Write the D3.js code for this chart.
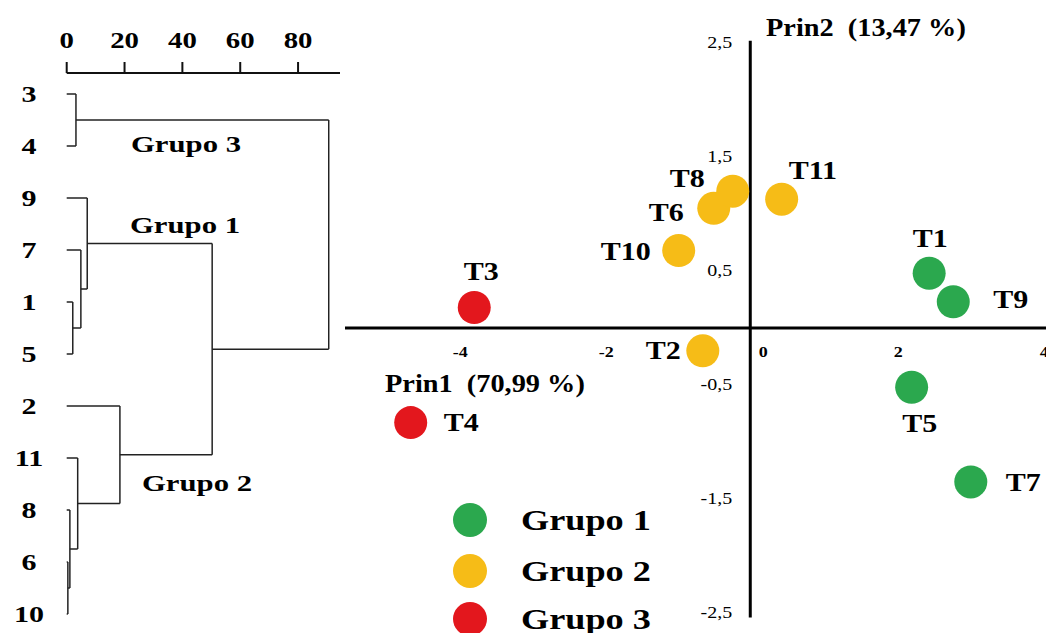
<!DOCTYPE html>
<html>
<head>
<meta charset="utf-8">
<script src="https://cdn.jsdelivr.net/npm/d3@7"></script>
<style>
  body { margin: 0; background: #fff; }
  text { font-family: "Liberation Serif", "Times New Roman", serif; fill: #000; white-space: pre; }
</style>
</head>
<body>
<div id="chart"></div>
<script>
// dendrogram (left) + PCA biplot of treatments (right)

// --- dendrogram data ---
var leafOrder = ["3", "4", "9", "7", "1", "5", "2", "11", "8", "6", "10"];
// merge k joins mergeLeft[k] and mergeRight[k] at mergeHeight[k]; "m" + k names the new cluster
var mergeLeft   = ["3", "1", "7",  "9",  "6",  "8",  "11", "2",  "m3", "m0"];
var mergeRight  = ["4", "5", "m1", "m2", "10", "m4", "m5", "m6", "m7", "m8"];
var mergeHeight = [3.2, 2.1, 4.9,  7.1,  0.4,  1.1,  3.8,  18.4, 50.3, 90.6];
var dendroTicks = [0, 20, 40, 60, 80];
var groupNames = ["Grupo 1", "Grupo 2", "Grupo 3"];

// --- PCA data ---
var treatments = ["T1", "T2", "T3", "T4", "T5", "T6", "T7", "T8", "T9", "T10", "T11"];
var prin1 = [2.45, -0.65, -3.78, -4.65, 2.21, -0.50, 3.02, -0.24, 2.78, -0.98, 0.43];
var prin2 = [0.48, -0.20, 0.18, -0.83, -0.52, 1.05, -1.35, 1.20, 0.23, 0.68, 1.13];
var group = [1, 2, 3, 3, 1, 2, 1, 2, 1, 2, 2];
var xTicks = [-4, -2, 0, 2, 4];
var yTicks = [2.5, 1.5, 0.5, -0.5, -1.5, -2.5];

var groupColors = ["#2ba84e", "#f6bc17", "#e3171d"];

var W = 1046, H = 633;

var svg = d3.select("#chart").append("svg")
    .attr("width", W)
    .attr("height", H);

svg.append("rect").attr("width", W).attr("height", H).attr("fill", "#fff");

// text with a horizontal stretch, the original lettering is wider than Times
function label(parent, txt, x, y, size, sx, anchor, weight) {
    return parent.append("text")
        .attr("transform", "translate(" + x + "," + y + ") scale(" + sx + ",1)")
        .attr("text-anchor", anchor || "middle")
        .attr("dominant-baseline", "central")
        .style("font-size", size + "px")
        .style("font-weight", weight || "bold")
        .text(txt);
}

// ================= dendrogram =================
var dg = svg.append("g");

var xd = d3.scaleLinear()
    .domain([0, 94.5])
    .range([66.7, 340]);

var yd = d3.scalePoint()
    .domain(leafOrder)
    .range([94, 614]);

// axis on top
var dAxisY = 73;
dg.append("line")
    .attr("x1", xd(0)).attr("x2", xd(94.5))
    .attr("y1", dAxisY).attr("y2", dAxisY)
    .attr("stroke", "#111").attr("stroke-width", 2);

dg.selectAll(".dtick")
    .data(dendroTicks)
    .enter()
    .append("line")
    .attr("class", "dtick")
    .attr("x1", function(d) { return xd(d); })
    .attr("x2", function(d) { return xd(d); })
    .attr("y1", dAxisY - 11)
    .attr("y2", dAxisY)
    .attr("stroke", "#111").attr("stroke-width", 2);

dendroTicks.forEach(function(t) {
    label(dg, String(t), xd(t), 40, 24, 1.2);
});

// node positions
var pos = {};
leafOrder.forEach(function(l) {
    pos[l] = {x: xd(0), y: yd(l)};
});

mergeLeft.forEach(function(a, k) {
    var b = mergeRight[k];
    var nx = xd(mergeHeight[k]);
    var pa = pos[a], pb = pos[b];
    // horizontal arms
    [pa, pb].forEach(function(p) {
        dg.append("line")
            .attr("x1", p.x).attr("x2", nx)
            .attr("y1", p.y).attr("y2", p.y)
            .attr("stroke", "#222").attr("stroke-width", 1.5);
    });
    // vertical join
    dg.append("line")
        .attr("x1", nx).attr("x2", nx)
        .attr("y1", pa.y).attr("y2", pb.y)
        .attr("stroke", "#222").attr("stroke-width", 1.5);
    pos["m" + k] = {x: nx, y: (pa.y + pb.y) / 2};
});

leafOrder.forEach(function(l) {
    label(dg, l, 29, yd(l), 24, 1.25);
});

// cluster names
var groupLabelPos = {"Grupo 1": [185, 225], "Grupo 2": [197, 483], "Grupo 3": [186, 144]};
groupNames.forEach(function(g) {
    label(dg, g, groupLabelPos[g][0], groupLabelPos[g][1], 24, 1.28);
});

// ================= PCA =================
var pg = svg.append("g");

var x = d3.scaleLinear()
    .domain([-5.55, 4.05])
    .range([345, 1046]);

var y = d3.scaleLinear()
    .domain([-2.5, 2.5])
    .range([613, 43]);

// axes through the origin
pg.append("line")
    .attr("x1", x(-5.55)).attr("x2", x(4.05))
    .attr("y1", y(0)).attr("y2", y(0))
    .attr("stroke", "#000").attr("stroke-width", 3);

pg.append("line")
    .attr("x1", x(0)).attr("x2", x(0))
    .attr("y1", y(2.52)).attr("y2", y(-2.54))
    .attr("stroke", "#000").attr("stroke-width", 3);

var fmt = function(v) { return String(v).replace(".", ","); };

yTicks.forEach(function(t) {
    label(pg, fmt(t), x(0) - 18, y(t), 16, 1.25, "end", "normal");
});

xTicks.forEach(function(t) {
    var dx = t === 0 ? 13 : 2;
    label(pg, String(t), x(t) + dx, y(0) + 24, 15, 1.2);
});

label(pg, "Prin2  (13,47 %)", 766, 27, 26, 1.09, "start");
label(pg, "Prin1  (70,99 %)", 385, 383, 26, 1.09, "start");

var pts = treatments.map(function(t, i) {
    return {name: t, px: prin1[i], py: prin2[i], g: group[i]};
});

pg.selectAll("circle.pt")
    .data(pts)
    .enter()
    .append("circle")
    .attr("class", "pt")
    .attr("cx", function(d) { return x(d.px); })
    .attr("cy", function(d) { return y(d.py); })
    .attr("r", 16.5)
    .attr("fill", function(d) { return groupColors[d.g - 1]; });

// where each treatment name sits next to its point: dx, dy, anchor
var labelOffset = {
    T1: [1, -35, "middle"],
    T2: [-22, 0, "end"],
    T3: [7, -36, "middle"],
    T4: [33, 0, "start"],
    T5: [8, 36, "middle"],
    T6: [-30, 4, "end"],
    T7: [35, 0, "start"],
    T8: [-28, -13, "end"],
    T9: [40, -2, "start"],
    T10: [-28, 1, "end"],
    T11: [7, -29, "start"]
};

pts.forEach(function(d) {
    var o = labelOffset[d.name];
    label(pg, d.name, x(d.px) + o[0], y(d.py) + o[1], 25, 1.2, o[2]);
});

// legend
var lg = svg.append("g");
var legendY = [520, 571, 619];
groupNames.forEach(function(g, i) {
    lg.append("circle")
        .attr("cx", 470)
        .attr("cy", legendY[i])
        .attr("r", 17)
        .attr("fill", groupColors[i]);
    label(lg, g, 521, legendY[i], 29, 1.25, "start");
});

</script>
</body>
</html>
